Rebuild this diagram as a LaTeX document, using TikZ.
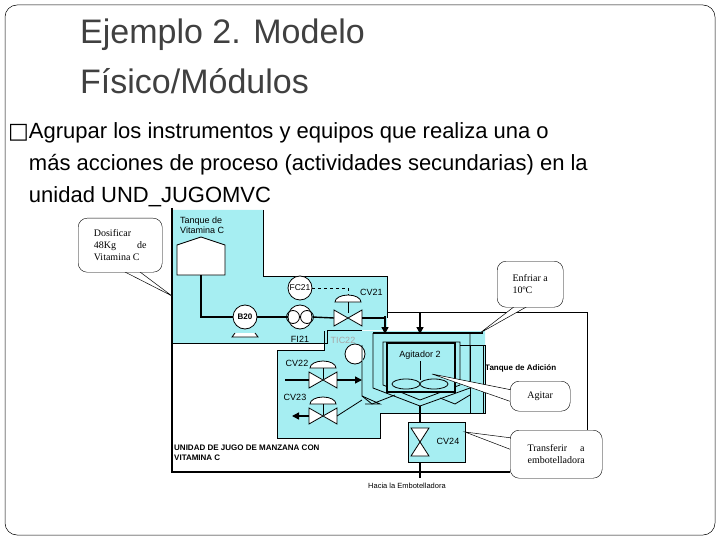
\documentclass[tikz,border=0pt]{standalone}
\usepackage{fontspec}
\setmainfont{Liberation Sans}
\newfontfamily\serf{Liberation Serif}
\newfontfamily\djv{DejaVu Sans}
\usetikzlibrary{arrows.meta}
\definecolor{cy}{RGB}{166,238,242}
\definecolor{tgray}{RGB}{64,64,64}
\tikzset{
 lab/.style={font=\fontsize{9}{10}\selectfont,inner sep=0pt},
 blab/.style={font=\bfseries\fontsize{8}{10}\selectfont,inner sep=0pt,align=left},
 callout/.style={draw,rounded corners=9pt,fill=white,font=\serf\fontsize{10}{12}\selectfont,align=left,inner sep=4pt},
 pipe/.style={line width=1.4pt},
 arr/.style={line width=1.4pt,-{Triangle[length=7pt,width=7pt]}},
 vlv/.style={draw,fill=white,line width=0.8pt},
}
\newcommand{\vbow}[2]{\draw[vlv] (#1-14,#2-8)--(#1+14,#2+8)--(#1+14,#2-8)--(#1-14,#2+8)--cycle;}
\newcommand{\vdome}[2]{\draw[vlv] (#1-13,#2+5) arc[start angle=180,end angle=360,x radius=13,y radius=7]--cycle; \draw[line width=0.8pt](#1,#2+5)--(#1,#2+16);}
\begin{document}
\begin{tikzpicture}[x=1pt,y=-1pt]
\useasboundingbox (0,0) rectangle (720,540);
\draw[rounded corners=12pt,line width=0.5pt] (5,5) rectangle (715,535);
\node[anchor=west,text=tgray,font=\fontsize{34}{40}\selectfont,inner sep=0pt] (t1) at (80,35) {Ejemplo 2. Modelo};
\node[anchor=west,text=tgray,font=\fontsize{34}{40}\selectfont,inner sep=0pt] (t2) at (80,81) {Físico/Módulos};
\node[anchor=west,font=\fontsize{22}{32}\selectfont,inner sep=0pt,align=left] (b) at (8,165)
 {{\djv □}Agrupar los instrumentos y equipos que realiza una o\\
 \hphantom{{\djv □}}más acciones de proceso (actividades secundarias) en la\\
 \hphantom{{\djv □}}unidad UND\_JUGOMVC};
% cyan regions
\fill[cy] (172,210)--(263,210)--(263,276)--(387,276)--(387,330)--(327,330)--(327,343)--(172,343)--cycle;
\fill[cy] (277,350)--(324,350)--(324,331)--(485,331)--(485,413)--(380,413)--(380,438)--(277,438)--cycle;
\draw[line width=0.8pt] (263,210)--(263,276)--(387,276)--(387,318);
\draw[line width=0.8pt] (172,343)--(327,343)--(327,330)--(362,330);
\draw[line width=0.8pt] (277,438)--(380,438)--(380,413)--(485,413)--(485,345)--(460,345);
\draw[line width=0.8pt] (277,438)--(277,350)--(324,350)--(324,331);
% outer unit box
\draw[line width=1.4pt] (172,208)--(172,472)--(510,472);
\draw[line width=1pt] (387,312)--(587,312)--(587,430);
% tank vitamin C
\draw[vlv] (177,245)--(201,237)--(225,245)--(225,275)--(177,275)--cycle;
\node[lab,align=left,anchor=west] (tvc) at (180,225) {Tanque de\\Vitamina C};
% pumps / instruments
\node[draw,circle,fill=white,minimum size=24pt,inner sep=0pt,font=\bfseries\fontsize{8}{9}\selectfont,line width=0.8pt] (b20) at (245,317) {B20};
\draw[vlv] (235,333)--(232,337)--(258,337)--(255,333);
\node[draw,circle,fill=white,minimum size=24pt,inner sep=0pt,line width=0.8pt] (fi) at (300,317) {};
\draw[line width=0.8pt] (293,317) circle (6.5) (307,317) circle (6.5);
\node[draw,circle,fill=white,minimum size=24pt,inner sep=0pt,font=\fontsize{8.5}{9}\selectfont,line width=0.8pt] (fc) at (300,288) {FC21};
\node[lab] at (300,339) {FI21};
\coordinate (tb) at (201,275);
\draw[pipe] (tb)|-(b20.west);
\draw[pipe] (b20.east)--(fi.west);
\vbow{348}{318}
\vdome{348}{297}
\draw[pipe] (fi.east)--(334,318);
\draw[dashed,line width=0.8pt] (fc.east)--(348,288)--(348,295);
\node[lab,anchor=west] at (360,292) {CV21};
\coordinate (a1) at (385,334);
\coordinate (a2) at (420,334);
\draw[pipe] (362,318)--(385,318);
\draw[arr] (385,316)--(a1);
\draw[arr] (420,312)--(a2);
% TIC22
\node[lab,text=white!30!gray] at (343,340) {TIC22};
\node[draw,circle,fill=white,minimum size=20pt,inner sep=0pt,line width=0.8pt] (tic) at (355,354) {};
% CV22
\node[lab] at (297,363) {CV22};
\vdome{323}{363}
\vbow{323}{380}
\draw[pipe] (285,380)--(309,380);
\draw[arr] (337,380)--(362,380);
% CV23
\node[lab] at (295,397) {CV23};
\vdome{323}{399}
\vbow{323}{416}
\draw[arr] (309,416)--(292,416);
\draw[line width=0.8pt] (337,416)--(362,400);
% tank
\draw[line width=1.8pt] (373,333)--(483,333);
\draw[line width=0.8pt,fill=cy] (362,345)--(362,396)--(380,404)--(365,404);
\draw[line width=0.8pt] (373,333)--(373,388)--(420,406)--(470,388)--(470,333);
\draw[line width=0.8pt] (383,342)--(383,385)--(420,400)--(460,385)--(460,342)--cycle;
\draw[line width=0.8pt] (362,396)--(372,404)--(395,395) (470,395)--(455,404)--(440,398);
\draw[line width=0.8pt] (470,345) rectangle (483,413);
\draw[line width=1.2pt,fill=cy] (387,343) rectangle (455,392);
\node[lab] (ag) at (420,355) {Agitador 2};
\draw[line width=0.8pt] (420,361)--(420,380);
\draw[line width=0.8pt,fill=cy] (406,384) ellipse (14 and 5);
\draw[line width=0.8pt,fill=cy] (434,384) ellipse (14 and 5);
\node[blab,anchor=west] at (485,368) {Tanque de Adición};
% CV24
\draw[pipe] (420,406)--(420,478);
\draw[line width=0.8pt,fill=cy] (408,422) rectangle (465,462);
\draw[vlv] (411,428)--(429,428)--(411,456)--(429,456)--cycle;
\node[lab] at (448,441) {CV24};
\node[lab,font=\fontsize{7.5}{8}\selectfont] at (407,486) {Hacia la Embotelladora};
\node[blab,anchor=north west] at (174,445) {UNIDAD DE JUGO DE MANZANA CON\\VITAMINA C};
% callouts
\draw[line width=0.5pt,fill=white] (140,272)--(172,296)--(125,272);
\node[callout,anchor=north west,minimum width=84pt,minimum height=54pt] (c1) at (78,218) {Dosificar\\48Kg \hspace{16pt} de\\Vitamina C};
\draw[line width=0.5pt,fill=white] (515,306)--(480,333)--(528,306);
\node[callout,anchor=north west,minimum width=66pt,minimum height=46pt] (c2) at (497,261) {Enfriar a\\10ºC};
\draw[line width=0.5pt,fill=white] (512,390)--(432,374)--(512,402);
\node[callout,anchor=north west,minimum width=60pt,minimum height=30pt] (c3) at (510,381) {Agitar};
\draw[line width=0.5pt,fill=white] (512,438)--(465,432)--(512,450);
\node[callout,anchor=north west,minimum width=92pt,minimum height=48pt] (c4) at (510,430) {Transferir \hspace{8pt} a\\embotelladora};
\end{tikzpicture}
\end{document}
